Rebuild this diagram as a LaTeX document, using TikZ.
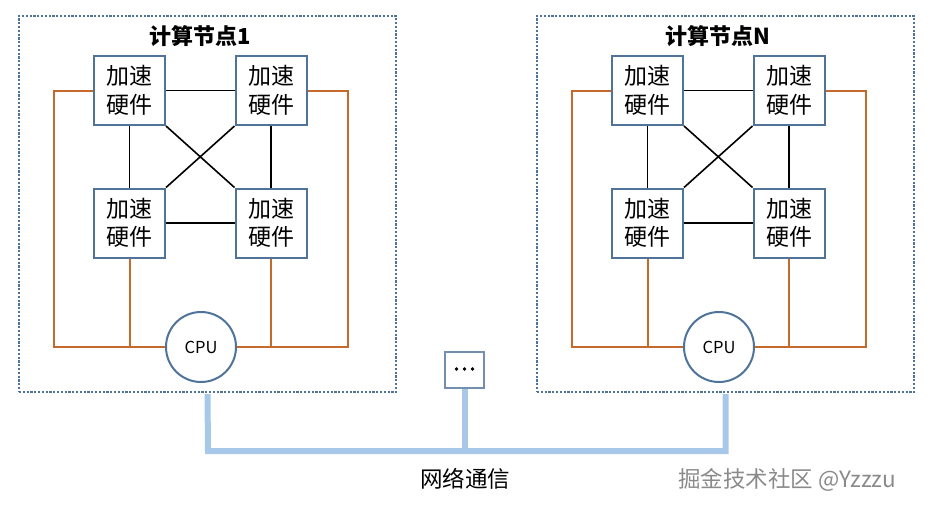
\documentclass[tikz,border=0pt]{standalone}
\usepackage{fontspec}
\setmainfont{Noto Sans CJK SC}
\definecolor{boxc}{HTML}{4F7399}
\definecolor{orangec}{HTML}{C46A2C}
\definecolor{busc}{HTML}{A7C8E8}
\definecolor{wmc}{HTML}{8A8A8A}
\begin{document}
\begin{tikzpicture}[x=1pt,y=-1pt,
  hw/.style={draw=boxc, line width=2pt, fill=white, minimum width=71pt, minimum height=69pt, inner sep=0pt, align=center, font=\fontsize{23}{28.5}\selectfont},
  cpu/.style={circle, draw=boxc, line width=2pt, fill=white, minimum size=70pt, inner sep=0pt, font=\fontsize{16.5}{18}\selectfont},
  frame/.style={draw=boxc, line width=2.2pt, dash pattern=on 2.2pt off 1.6pt, minimum width=377pt, minimum height=376pt, inner sep=0pt},
  link/.style={draw=black, line width=1.6pt},
  org/.style={draw=orangec, line width=2pt},
  bus/.style={draw=busc, line width=6pt},
  title/.style={font=\fontsize{22}{24}\selectfont\bfseries},
  lbl/.style={font=\fontsize{22.5}{26}\selectfont}]
\useasboundingbox (0,0) rectangle (933,507);
\foreach \s/\n/\t in {0/a/1, 518/b/N}{
  \node[frame] (frame\n) at (207.5+\s,204) {};
  \node[title] (title\n) at (200+\s,36) {计算节点\t};
  \draw[org] (129.5+\s,90.5) -- (54+\s,90.5) |- (201+\s,347);
  \draw[org] (271+\s,90.5) -- (348+\s,90.5) |- (201+\s,347);
  \node[hw] (tl\n) at (129.5+\s,90.5) {加速\\硬件};
  \node[hw] (tr\n) at (271+\s,90.5) {加速\\硬件};
  \node[hw] (bl\n) at (129.5+\s,223) {加速\\硬件};
  \node[hw] (br\n) at (271+\s,223) {加速\\硬件};
  \node[cpu] (cpu\n) at (201+\s,347) {CPU};
  \draw[link] (tl\n) -- (tr\n);
  \draw[link] (bl\n) -- (br\n);
  \draw[link] (tl\n) -- (bl\n);
  \draw[link] (tr\n) -- (br\n);
  \draw[link] (tl\n.south east) -- (br\n.north west);
  \draw[link] (tr\n.south west) -- (bl\n.north east);
  \draw[org] (bl\n.south) -- (bl\n.south |- cpu\n.center);
  \draw[org] (br\n.south) -- (br\n.south |- cpu\n.center);
}
\node[draw=boxc!80, line width=1.4pt, fill=white, minimum width=39pt, minimum height=36pt, inner sep=0pt] (dots) at (464.5,370) {};
\foreach \dx in {-8,0,8} \fill (464.5+\dx,369) circle (1.9pt);
\coordinate (busL) at (208,451);
\coordinate (busR) at (725.5,451);
\draw[bus] ([yshift=-1pt]framea.south) -- (busL) -- (busR) -- ([yshift=-1pt]frameb.south);
\draw[bus] (dots.south) -- (dots.south |- busL);
\node[lbl] (net) at (465,479) {网络通信};
\node[lbl, text=wmc] (wm) at (787,480) {掘金技术社区 @Yzzzu};
\end{tikzpicture}
\end{document}
